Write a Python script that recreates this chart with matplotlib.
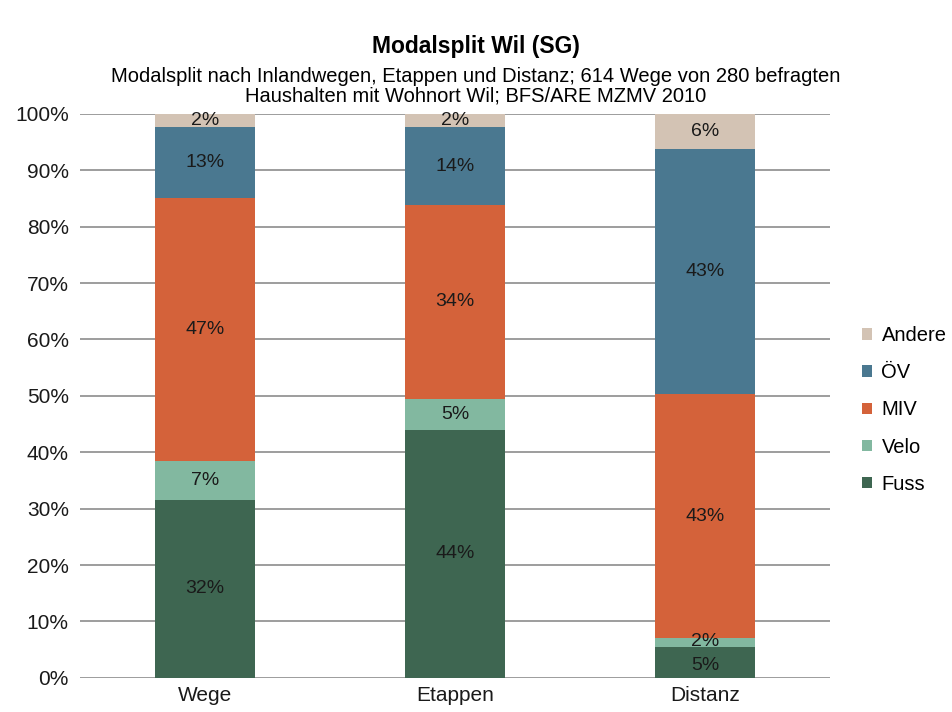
import numpy as np
import matplotlib
matplotlib.use('Agg')
import matplotlib.pyplot as plt
from matplotlib.ticker import FuncFormatter

plt.rcParams['font.family'] = ['Liberation Sans', 'DejaVu Sans']

categories = ['Wege', 'Etappen', 'Distanz']
modes = ['Fuss', 'Velo', 'MIV', 'ÖV', 'Andere']
fuss = [31.6, 44.0, 5.4]
velo = [6.9, 5.4, 1.6]
miv = [46.6, 34.5, 43.3]
oev = [12.6, 13.7, 43.5]
andere = [2.3, 2.4, 6.2]
labels = [['32%', '44%', '5%'],
          ['7%', '5%', '2%'],
          ['47%', '34%', '43%'],
          ['13%', '14%', '43%'],
          ['2%', '2%', '6%']]
colors = ['#3e6651', '#82b8a0', '#d4623a', '#4a7890', '#d3c3b4']

series = [fuss, velo, miv, oev, andere]

fig = plt.figure(figsize=(9.52, 7.12), dpi=100)
ax = fig.add_axes([0.084, 0.048, 0.788, 0.792])

x = np.arange(len(categories))
bottom = np.zeros(len(categories))
handles = []
for i in range(len(modes)):
    vals = np.array(series[i])
    b = ax.bar(x, vals, 0.4, bottom=bottom, color=colors[i], label=modes[i], zorder=2)
    handles.append(b)
    for j in range(len(categories)):
        yc = bottom[j] + vals[j] / 2
        # the two thin Distanz segments: labels pushed apart a little
        if i == 1 and j == 2:
            yc = bottom[j] + vals[j] / 2 + 0.3
        if i == 0 and j == 2:
            yc = bottom[j] + vals[j] / 2 - 0.5
        ax.text(x[j], yc, labels[i][j], ha='center', va='center', fontsize=14, color='#1a1a1a', zorder=3)
    bottom = bottom + vals

ax.set_xlim(-0.5, 2.5)
ax.set_ylim(0, 100)
ax.set_yticks(np.arange(0, 101, 10))
ax.yaxis.set_major_formatter(FuncFormatter(lambda v, p: '%d%%' % v))
ax.set_xticks(x)
ax.set_xticklabels(categories)
ax.tick_params(axis='both', length=0, labelsize=15, colors='#1a1a1a')
ax.tick_params(axis='y', pad=8)
ax.tick_params(axis='x', pad=6)
ax.grid(axis='y', color='#8c8c8c', linewidth=1.2, zorder=1)
for s in ax.spines.values():
    s.set_visible(False)

fig.text(0.5, 0.935, 'Modalsplit Wil (SG)', ha='center', va='center', fontsize=16.5, fontweight='bold')
fig.text(0.5, 0.879, 'Modalsplit nach Inlandwegen, Etappen und Distanz; 614 Wege von 280 befragten\nHaushalten mit Wohnort Wil; BFS/ARE MZMV 2010',
         ha='center', va='center', fontsize=14.5, linespacing=1.05)

leg = ax.legend(handles=handles[::-1], labels=modes[::-1], loc='center left', bbox_to_anchor=(1.0, 0.475),
                frameon=False, fontsize=14.5, handlelength=0.5, handleheight=0.5, handletextpad=0.45,
                labelspacing=0.9, borderaxespad=1.2)

plt.savefig('out.png', dpi=100)
